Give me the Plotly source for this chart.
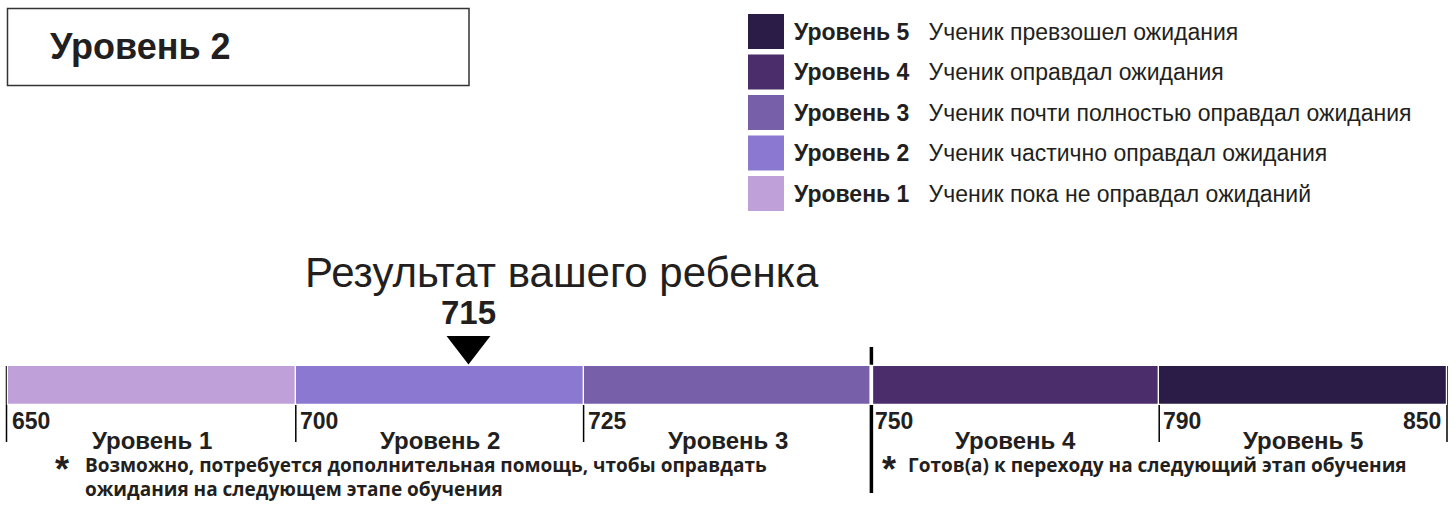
import numpy as np
import plotly.graph_objects as go

# ---- data ----
boundaries = [650, 700, 725, 750, 790, 850]
levels = ["Уровень 1", "Уровень 2", "Уровень 3", "Уровень 4", "Уровень 5"]
level_colors = ["#BFA0D8", "#8B78D0", "#775FAA", "#4B2D6B", "#2B1B47"]
legend_desc = [
    "Ученик пока не оправдал ожиданий",
    "Ученик частично оправдал ожидания",
    "Ученик почти полностью оправдал ожидания",
    "Ученик оправдал ожидания",
    "Ученик превзошел ожидания",
]
score = 715
result_level = "Уровень 2"
score_title = "Результат вашего ребенка"
note_left = ["Возможно, потребуется дополнительная помощь, чтобы оправдать",
             "ожидания на следующем этапе обучения"]
note_right = "Готов(а) к переходу на следующий этап обучения"
ready_boundary = 750

W, H = 1456, 526
px_per_unit = (1447 - 8) / 5.0
FONT = "Liberation Sans, Arial, sans-serif"
NOTE_FONT = "Open Sans, sans-serif"
TXT = "#231F20"

idx = np.arange(len(boundaries))
score_pos = float(np.interp(score, boundaries, idx))

def px(x):
    return x / W

fig = go.Figure()

# bar segments
fig.add_trace(go.Bar(
    orientation="h",
    base=idx[:-1],
    x=[1] * len(levels),
    y=[385.5] * len(levels),
    width=39,
    marker=dict(color=level_colors, line=dict(color="white", width=1.2)),
    hoverinfo="skip",
    showlegend=False,
))

# score marker
fig.add_trace(go.Scatter(
    x=[score_pos], y=[345.5],
    mode="markers",
    marker=dict(symbol="triangle-down", size=38, color="black", line=dict(width=0)),
    hoverinfo="skip", showlegend=False,
))

shapes = []
annotations = []

# tick lines
for i in idx:
    if boundaries[i] == ready_boundary:
        shapes.append(dict(type="line", xref="x", yref="y", x0=i, x1=i, y0=347, y1=493,
                           line=dict(color="black", width=3.5), layer="below"))
        shapes.append(dict(type="line", xref="x", yref="y", x0=i, x1=i, y0=366, y1=405,
                           line=dict(color="white", width=3.5), layer="above"))
    else:
        x0 = i if i > 0 else i - 1.5 / px_per_unit
        shapes.append(dict(type="line", xref="x", yref="y", x0=x0, x1=x0, y0=366, y1=442,
                           line=dict(color="black", width=1.5), layer="below"))

# tick labels
for i, b in enumerate(boundaries):
    last = i == len(boundaries) - 1
    annotations.append(dict(x=i, y=421, xref="x", yref="y", text=f"<b>{b}</b>",
                            xanchor="right" if last else "left", yanchor="middle",
                            xshift=-4 if last else 2, showarrow=False,
                            font=dict(family=FONT, size=23, color=TXT)))

# level labels
for i, lv in enumerate(levels):
    annotations.append(dict(x=i + 0.5, y=440, xref="x", yref="y", text=f"<b>{lv}</b>",
                            xanchor="center", yanchor="middle", showarrow=False,
                            font=dict(family=FONT, size=24, color=TXT)))

# score text
annotations.append(dict(x=px(562), y=272, xref="paper", yref="y", text=score_title,
                        xanchor="center", yanchor="middle", showarrow=False,
                        font=dict(family=FONT, size=42, color=TXT)))
annotations.append(dict(x=score_pos, y=312, xref="x", yref="y", text=f"<b>{score}</b>",
                        xanchor="center", yanchor="middle", showarrow=False,
                        font=dict(family=FONT, size=33, color=TXT)))

# result box
shapes.append(dict(type="rect", xref="paper", yref="y", x0=px(7.5), x1=px(469), y0=8.5, y1=85.5,
                   line=dict(color="#333333", width=1.5), fillcolor="rgba(0,0,0,0)"))
annotations.append(dict(x=px(48), y=46, xref="paper", yref="y", text=f"<b>{result_level}</b>",
                        xanchor="left", yanchor="middle", showarrow=False,
                        font=dict(family=FONT, size=36, color=TXT)))

# legend (top = level 5)
for row, li in enumerate(range(len(levels) - 1, -1, -1)):
    y0 = 14 + row * 40.5
    shapes.append(dict(type="rect", xref="paper", yref="y", x0=px(748), x1=px(784),
                       y0=y0, y1=y0 + 35, line=dict(width=0), fillcolor=level_colors[li]))
    annotations.append(dict(x=px(792), y=y0 + 17.5, xref="paper", yref="y",
                            text=f"<b>{levels[li]}</b>&nbsp;&nbsp;&nbsp;{legend_desc[li]}",
                            xanchor="left", yanchor="middle", showarrow=False,
                            font=dict(family=FONT, size=23, color=TXT)))

# footnotes
for ax, tx, lines in [(62, 83, note_left), (889, 906, [note_right])]:
    annotations.append(dict(x=px(ax), y=469, xref="paper", yref="y", text="<b>*</b>",
                            xanchor="center", yanchor="middle", showarrow=False,
                            font=dict(family=FONT, size=36, color=TXT)))
    for k, line in enumerate(lines):
        annotations.append(dict(x=px(tx), y=465 + 24 * k, xref="paper", yref="y",
                                text=f"<b>{line}</b>",
                                xanchor="left", yanchor="middle", showarrow=False,
                                font=dict(family=NOTE_FONT, size=19, color=TXT)))

fig.update_layout(
    width=W, height=H,
    margin=dict(l=0, r=0, t=0, b=0, pad=0),
    paper_bgcolor="white", plot_bgcolor="white",
    xaxis=dict(range=[-8 / px_per_unit, (W - 8) / px_per_unit], visible=False, fixedrange=True),
    yaxis=dict(range=[H, 0], visible=False, fixedrange=True),
    shapes=shapes, annotations=annotations,
    bargap=0, showlegend=False,
)

fig.write_html(
    "out.html",
    config={"displayModeBar": False},
    post_script="document.body.style.margin='0';document.body.style.overflow='hidden';",
)
